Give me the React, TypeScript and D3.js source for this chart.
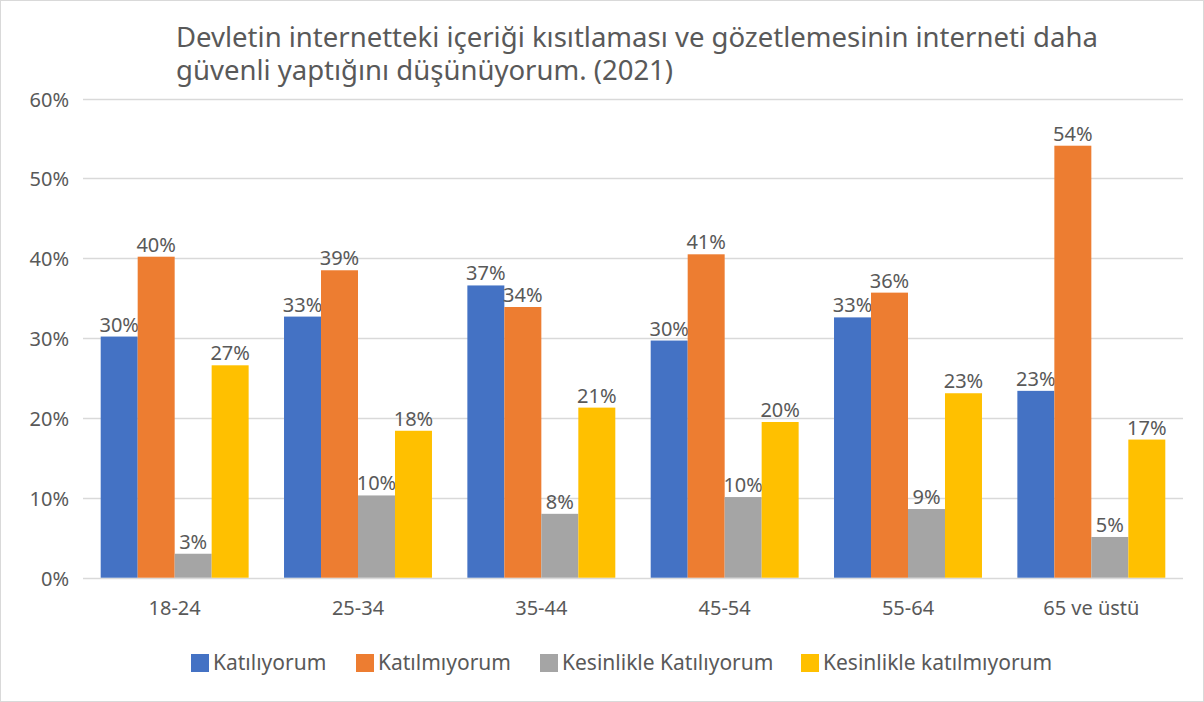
import React from "react";
import * as d3 from "d3";

const categories = ["18-24", "25-34", "35-44", "45-54", "55-64", "65 ve üstü"];
const seriesNames = ["Katılıyorum", "Katılmıyorum", "Kesinlikle Katılıyorum", "Kesinlikle katılmıyorum"];
const katiliyorum = [30.2, 32.7, 36.6, 29.7, 32.6, 23.4];
const katilmiyorum = [40.2, 38.5, 33.9, 40.5, 35.7, 54.1];
const kesinlikleKatiliyorum = [3.0, 10.3, 8.0, 10.1, 8.6, 5.1];
const kesinlikleKatilmiyorum = [26.6, 18.4, 21.3, 19.5, 23.1, 17.3];
const yTicks = [0, 10, 20, 30, 40, 50, 60];
const titleLines = [
  "Devletin internetteki içeriği kısıtlaması ve gözetlemesinin interneti daha",
  "güvenli yaptığını düşünüyorum. (2021)",
];
const colors = ["#4472C4", "#ED7D31", "#A5A5A5", "#FFC000"];

const W = 1204;
const H = 702;
const FONT = "'Noto Sans', sans-serif";
const TXT = "#595959";

export default function App() {
  const series = [katiliyorum, katilmiyorum, kesinlikleKatiliyorum, kesinlikleKatilmiyorum];
  const x0 = d3.scaleBand<string>().domain(categories).range([83, 1183]).paddingInner(0.193).paddingOuter(0.0965);
  const x1 = d3.scaleBand<number>().domain(d3.range(series.length)).range([0, x0.bandwidth()]);
  const y = d3.scaleLinear().domain([0, 60]).range([577.7, 98.6]);

  const legendX = [191, 356, 540, 801];

  return (
    <svg width={W} height={H} style={{ position: "absolute", left: 0, top: 0, background: "#fff" }} fontFamily={FONT}>
      <rect x={0.5} y={0.5} width={W - 1} height={H - 1} fill="#fff" stroke="#d9d9d9" />
      {titleLines.map((t, i) => (
        <text key={i} x={176} y={47 + i * 33} fontSize={27.5} fill={TXT}>{t}</text>
      ))}
      {yTicks.map((t) => (
        <g key={t}>
          <line x1={83} x2={1183} y1={Math.round(y(t)) + 0.5} y2={Math.round(y(t)) + 0.5} stroke="#d9d9d9" strokeWidth={1.5} />
          <text x={69} y={y(t) + 8} textAnchor="end" fontSize={20} fill={TXT}>{`${t}%`}</text>
        </g>
      ))}
      {categories.map((c, ci) => (
        <g key={c} transform={`translate(${x0(c)},0)`}>
          {series.map((s, si) => (
            <g key={si}>
              <rect x={x1(si)} y={y(s[ci])} width={x1.bandwidth()} height={y(0) - y(s[ci])} fill={colors[si]} />
              <text x={(x1(si) as number) + x1.bandwidth() / 2} y={y(s[ci]) - 5} textAnchor="middle" fontSize={20} fill={TXT}>
                {`${Math.round(s[ci])}%`}
              </text>
            </g>
          ))}
          <text x={x0.bandwidth() / 2} y={615} textAnchor="middle" fontSize={20} fill={TXT}>{c}</text>
        </g>
      ))}
      {seriesNames.map((n, i) => (
        <g key={n}>
          <rect x={legendX[i]} y={654} width={18} height={18} fill={colors[i]} />
          <text x={legendX[i] + 22} y={670} fontSize={21} fill={TXT}>{n}</text>
        </g>
      ))}
    </svg>
  );
}
